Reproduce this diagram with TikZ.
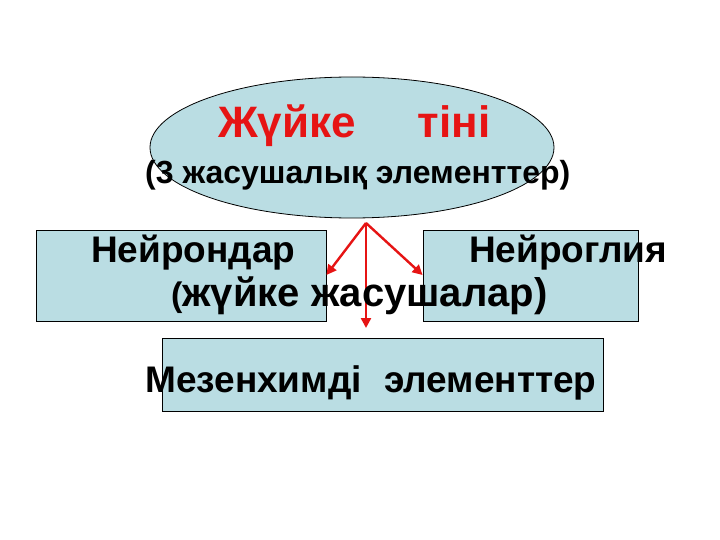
\documentclass[tikz,border=0pt]{standalone}
\usepackage{fontspec}
\setmainfont{Liberation Sans}
\usetikzlibrary{shapes.geometric,arrows.meta}
\definecolor{boxfill}{RGB}{186,221,227}
\definecolor{arrowred}{RGB}{230,20,20}
\tikzset{
  panel/.style={draw=black, line width=0.8pt, fill=boxfill, inner sep=0pt},
  label/.style={inner sep=0pt, anchor=base west, font=\bfseries},
  redarrow/.style={draw=arrowred, line width=2.4pt, -{Triangle[length=10pt,width=10pt]}}
}
\begin{document}
\begin{tikzpicture}[x=1pt,y=-1pt]
\useasboundingbox[fill=white] (0,0) rectangle (720,540);
% shapes
\node[panel, ellipse, minimum width=404pt, minimum height=141pt] (oval) at (352,147.5) {};
\node[panel, rectangle, minimum width=290pt, minimum height=91pt] (neur) at (181,275.5) {};
\node[panel, rectangle, minimum width=215pt, minimum height=91pt] (glia) at (530.5,275.5) {};
\node[panel, rectangle, minimum width=441pt, minimum height=73pt] (mes) at (382.5,374.5) {};
% arrows
\coordinate (apex) at (366,223);
\coordinate (downtip) at (366,328);
\draw[redarrow] (apex) -- (neur.east |- 0,275);
\draw[redarrow] (apex) -- (glia.west |- 0,275);
\draw[redarrow] (apex) -- (downtip);
% texts
\node[label, font=\fontsize{44}{44}\bfseries\selectfont, text=arrowred] (t1) at (218,138) {Жүйке\hspace{62pt}тіні};
\node[label, font=\fontsize{32}{32}\bfseries\selectfont] (t2) at (145,184) {(3 жасушалық элементтер)};
\node[label, font=\fontsize{37}{37}\bfseries\selectfont] (t3) at (91,262) {Нейрондар};
\node[label, font=\fontsize{37}{37}\bfseries\selectfont] (t4) at (469,262) {Нейроглия};
\node[label, font=\fontsize{40}{40}\bfseries\selectfont] (t5) at (171,306) {{\fontsize{34}{34}\selectfont(}жүйке жасушалар)};
\node[label, font=\fontsize{37}{37}\bfseries\selectfont] (t6) at (145,392) {Мезенхимді\hspace{12pt} элементтер};
\end{tikzpicture}
\end{document}
